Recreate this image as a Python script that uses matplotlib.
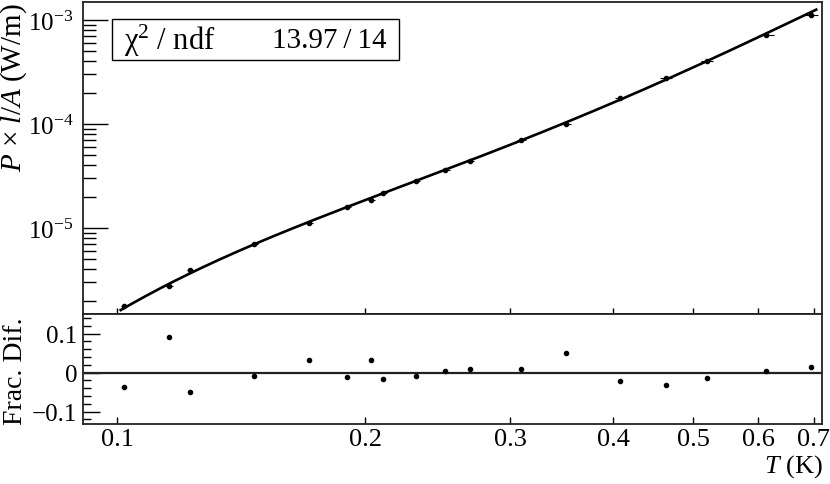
import numpy as np
import matplotlib
matplotlib.use("Agg")
import matplotlib.pyplot as plt
from matplotlib.ticker import FixedLocator, FixedFormatter, NullLocator, MultipleLocator
from matplotlib.patches import Rectangle

plt.rcParams['font.family'] = ['Liberation Serif', 'DejaVu Serif']
plt.rcParams['mathtext.fontset'] = 'custom'
plt.rcParams['mathtext.rm'] = 'Liberation Serif'
plt.rcParams['mathtext.it'] = 'Liberation Serif:italic'
plt.rcParams['mathtext.default'] = 'regular'

# data
T = [0.1020, 0.1157, 0.1226, 0.1467, 0.1710, 0.1902, 0.2034, 0.2103, 0.2306,
     0.2501, 0.2682, 0.3093, 0.3507, 0.4078, 0.4638, 0.5200, 0.6134, 0.6953]
T_err = [0.0010, 0.0012, 0.0012, 0.0015, 0.0018, 0.0020, 0.0021, 0.0022, 0.0025,
         0.0030, 0.0032, 0.0040, 0.0050, 0.0060, 0.0080, 0.0090, 0.0130, 0.0130]
P = [1.79e-6, 2.79e-6, 3.97e-6, 7.02e-6, 1.12e-5, 1.58e-5, 1.87e-5, 2.17e-5, 2.83e-5,
     3.61e-5, 4.41e-5, 6.97e-5, 1.00e-4, 1.79e-4, 2.79e-4, 4.04e-4, 7.18e-4, 1.12e-3]
frac_dif = [-0.036, 0.091, -0.049, -0.008, 0.032, -0.011, 0.031, -0.017, -0.008,
            0.004, 0.008, 0.008, 0.050, -0.022, -0.033, -0.014, 0.005, 0.013]
# points
curve_T = [0.101, 0.1157, 0.1467, 0.2034, 0.3093, 0.4638, 0.6134, 0.705]
curve_P = [1.60e-6, 3.00e-6, 6.95e-6, 1.92e-5, 7.03e-5, 2.72e-4, 7.20e-4, 1.28e-3]
xticks = [0.1, 0.2, 0.3, 0.4, 0.5, 0.6, 0.7]
xlabels = ['0.1', '0.2', '0.3', '0.4', '0.5', '0.6', '0.7']

# smooth line through the curve points (in log-log)
coef = np.polyfit(np.log10(curve_T), np.log10(curve_P), 4)
tt = np.logspace(np.log10(curve_T[0]), np.log10(curve_T[-1]), 300)
pp = 10 ** np.polyval(coef, np.log10(tt))

fig = plt.figure(figsize=(8.3, 4.85), dpi=100)
ax = fig.add_axes([0.1, 0.3505, 0.890, 0.6433])
ax2 = fig.add_axes([0.1, 0.1237, 0.890, 0.2268])

fc = '#222222'
for a in (ax, ax2):
    for s in a.spines.values():
        s.set_linewidth(1.3)
        s.set_color(fc)

ax.plot(tt, pp, color='black', lw=1.9)
ax.errorbar(T, P, xerr=T_err, fmt='o', color='black', ms=3, elinewidth=0.8, capsize=0)
ax.set_xscale('log')
ax.set_yscale('log')
ax.set_xlim(0.0909, 0.716)
ax.set_ylim(1.49e-6, 1.49e-3)
ax.xaxis.set_major_locator(FixedLocator(xticks))
ax.xaxis.set_minor_locator(NullLocator())
ax.tick_params(axis='x', which='major', direction='inout', length=9, width=1, labelbottom=False)
ax.tick_params(axis='y', which='major', direction='in', length=18, width=1, labelsize=18, pad=7)
ax.tick_params(axis='y', which='minor', direction='in', length=9, width=1)

ax.add_patch(Rectangle((112 / 830, 1 - 61 / 485), 287 / 830, 41 / 485, transform=fig.transFigure,
                       fill=False, edgecolor='black', lw=1.0))
fig.text(124 / 830, 1 - 41 / 485, 'χ$^2$ / ndf', fontsize=22, ha='left', va='center')
fig.text(387 / 830, 1 - 41 / 485, '13.97\u2009/\u200914', fontsize=21, ha='right', va='center')

ax2.axhline(0, color=fc, lw=1.6)
ax2.plot(T, frac_dif, 'o', color='black', ms=3)
ax2.set_xscale('log')
ax2.set_xlim(0.0909, 0.716)
ax2.set_ylim(-0.132, 0.15)
ax2.xaxis.set_major_locator(FixedLocator(xticks))
ax2.xaxis.set_major_formatter(FixedFormatter(xlabels))
ax2.xaxis.set_minor_locator(NullLocator())
ax2.yaxis.set_major_locator(FixedLocator([-0.1, 0, 0.1]))
ax2.yaxis.set_major_formatter(FixedFormatter(['\u22120.1', '0', '0.1']))
ax2.yaxis.set_minor_locator(MultipleLocator(0.02))
ax2.tick_params(axis='x', which='major', direction='in', length=5, width=1, labelsize=19, pad=3)
ax2.tick_params(axis='y', which='major', direction='in', length=12, width=1, labelsize=18, pad=4)
ax2.tick_params(axis='y', which='minor', direction='in', length=6, width=1)

fig.text(14 / 830, 1 - 3 / 485, '$\\it{P}$ × $\\it{l/A}$ (W/m)', fontsize=21, rotation=90,
         ha='center', va='top')
fig.text(15 / 830, 1 - 317 / 485, 'Frac. Dif.', fontsize=20, rotation=90, ha='center', va='top')
fig.text(823 / 830, 1 - 467 / 485, '$\\it{T}$ (K)', fontsize=19, ha='right', va='center')

fig.savefig('out.png', dpi=100)
